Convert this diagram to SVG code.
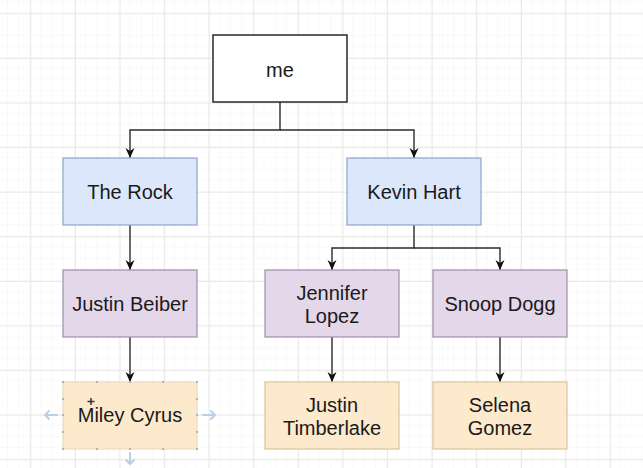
<svg xmlns="http://www.w3.org/2000/svg" width="643" height="468" viewBox="0 0 643 468">
<style>
.lbl{font-family:"Liberation Sans",Arial,sans-serif;font-size:20px;fill:#1a1a1a;text-anchor:middle}
.edge{fill:none;stroke:#2b2b2b;stroke-width:1.4}
.white{fill:#ffffff;stroke:#1a1a1a;stroke-width:1.4}
.blue{fill:#dce7fb;stroke:#8ea6cc;stroke-width:1.2}
.purple{fill:#e3d7e9;stroke:#a28dac;stroke-width:1.2}
.orange{fill:#fde9cc;stroke:#dcc39d;stroke-width:1.2}
.sel{fill:#fde9cc;stroke:#e6d6bb;stroke-width:1}
.hdl{fill:#b9b3a6}
.hint{fill:none;stroke:#b9cfe6;stroke-width:2;stroke-linecap:round}
</style>
<defs>
<pattern id="minor" patternUnits="userSpaceOnUse" x="8" y="2.15" width="11.15" height="11.15">
<path d="M11.15 0V11.15M0 11.15H11.15" fill="none" stroke="#f4f4f4" stroke-width="1"/>
</pattern>
<pattern id="major" patternUnits="userSpaceOnUse" x="30.3" y="13.3" width="44.6" height="44.6">
<path d="M0.5 0V44.6M0 0.5H44.6" fill="none" stroke="#e8e8e8" stroke-width="1"/>
</pattern>
<marker id="arr" viewBox="0 0 10 10" refX="10" refY="5" markerWidth="10" markerHeight="10" markerUnits="userSpaceOnUse" orient="auto">
<path d="M0 0.5L10 5L0 9.5L3 5Z" fill="#111"/>
</marker>
</defs>
<rect width="643" height="468" fill="#ffffff"/>
<rect width="643" height="468" fill="url(#minor)"/>
<rect width="643" height="468" fill="url(#major)"/>

<g id="connectors">
<path class="edge" d="M280 102V130H130V158" marker-end="url(#arr)"/>
<path class="edge" d="M280 130H414V158" marker-end="url(#arr)"/>
<path class="edge" d="M130 225V270" marker-end="url(#arr)"/>
<path class="edge" d="M414 225V248H332V270" marker-end="url(#arr)"/>
<path class="edge" d="M414 248H500V270" marker-end="url(#arr)"/>
<path class="edge" d="M130 337V382" marker-end="url(#arr)"/>
<path class="edge" d="M332 337V382" marker-end="url(#arr)"/>
<path class="edge" d="M500 337V382" marker-end="url(#arr)"/>
</g>

<g id="node-me">
<rect class="white" x="213" y="35" width="134" height="67"/>
<text class="lbl" x="280" y="77">me</text>
</g>
<g id="node-the-rock">
<rect class="blue" x="63" y="158" width="134" height="67"/>
<text class="lbl" x="130" y="199">The Rock</text>
</g>
<g id="node-kevin-hart">
<rect class="blue" x="347" y="158" width="134" height="67"/>
<text class="lbl" x="414" y="199">Kevin Hart</text>
</g>
<g id="node-justin-beiber">
<rect class="purple" x="63" y="270" width="134" height="67"/>
<text class="lbl" x="130" y="311">Justin Beiber</text>
</g>
<g id="node-jennifer-lopez">
<rect class="purple" x="265" y="270" width="134" height="67"/>
<text class="lbl" x="332" y="300">Jennifer</text>
<text class="lbl" x="332" y="323">Lopez</text>
</g>
<g id="node-snoop-dogg">
<rect class="purple" x="433" y="270" width="134" height="67"/>
<text class="lbl" x="500" y="311">Snoop Dogg</text>
</g>
<g id="node-miley-cyrus">
<rect class="sel" x="63" y="382" width="134" height="67"/>
<g class="hdl">
<rect x="62" y="381" width="2" height="2"/><rect x="96" y="381" width="2" height="2"/><rect x="129" y="381" width="2" height="2"/><rect x="162" y="381" width="2" height="2"/><rect x="196" y="381" width="2" height="2"/>
<rect x="62" y="398" width="2" height="2"/><rect x="62" y="414" width="2" height="2"/><rect x="62" y="431" width="2" height="2"/>
<rect x="196" y="398" width="2" height="2"/><rect x="196" y="414" width="2" height="2"/><rect x="196" y="431" width="2" height="2"/>
<rect x="62" y="448" width="2" height="2"/><rect x="96" y="448" width="2" height="2"/><rect x="129" y="448" width="2" height="2"/><rect x="162" y="448" width="2" height="2"/><rect x="196" y="448" width="2" height="2"/>
</g>
<path class="hint" d="M45 415H57M49 411L45 415L49 419"/>
<path class="hint" d="M203 415H215M211 411L215 415L211 419"/>
<path class="hint" d="M130 453V464M126 460L130 464L134 460"/>
<path d="M91 398V405M87.5 401.5H94.5" stroke="#333" stroke-width="1.5"/>
<text class="lbl" x="130" y="422">Miley Cyrus</text>
</g>
<g id="node-justin-timberlake">
<rect class="orange" x="265" y="382" width="134" height="67"/>
<text class="lbl" x="332" y="412">Justin</text>
<text class="lbl" x="332" y="435">Timberlake</text>
</g>
<g id="node-selena-gomez">
<rect class="orange" x="433" y="382" width="134" height="67"/>
<text class="lbl" x="500" y="412">Selena</text>
<text class="lbl" x="500" y="435">Gomez</text>
</g>
</svg>
